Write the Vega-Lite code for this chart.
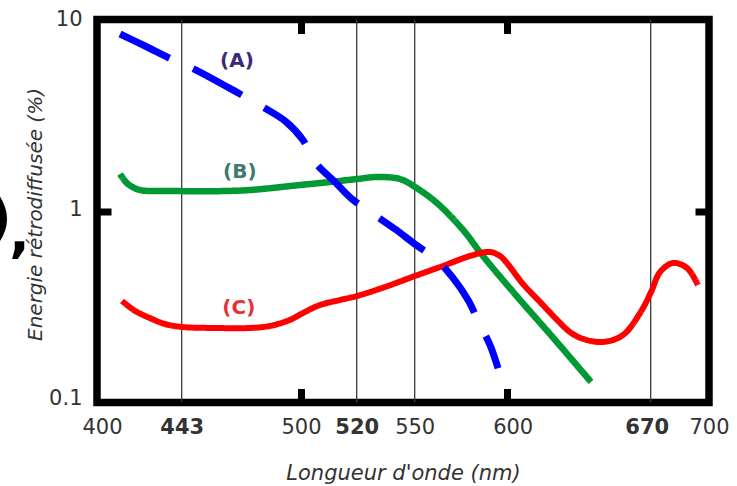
{
  "$schema": "https://vega.github.io/schema/vega-lite/v6.json",
  "width": 612,
  "height": 383,
  "autosize": {"type": "none"},
  "padding": {"left": 97, "top": 19.5, "right": 28, "bottom": 83.5},
  "background": "white",
  "config": {
    "view": {"stroke": "black", "strokeWidth": 7.5},
    "font": "DejaVu Sans",
    "axis": {"grid": false, "domain": false}
  },
  "datasets": {
    "curves": [
      {"series": "B", "nm": 411.7, "v": 1.56},
      {"series": "B", "nm": 415.7, "v": 1.384},
      {"series": "B", "nm": 421.8, "v": 1.287},
      {"series": "B", "nm": 432.0, "v": 1.272},
      {"series": "B", "nm": 443.1, "v": 1.27},
      {"series": "B", "nm": 461.3, "v": 1.27},
      {"series": "B", "nm": 475.6, "v": 1.287},
      {"series": "B", "nm": 499.5, "v": 1.367},
      {"series": "B", "nm": 510.4, "v": 1.417},
      {"series": "B", "nm": 520.2, "v": 1.469},
      {"series": "B", "nm": 530.5, "v": 1.505},
      {"series": "B", "nm": 542.4, "v": 1.469},
      {"series": "B", "nm": 550.2, "v": 1.335},
      {"series": "B", "nm": 562.1, "v": 1.101},
      {"series": "B", "nm": 576.3, "v": 0.796},
      {"series": "B", "nm": 587.1, "v": 0.582},
      {"series": "B", "nm": 606.5, "v": 0.343},
      {"series": "B", "nm": 621.0, "v": 0.228},
      {"series": "B", "nm": 641.0, "v": 0.128},
      {"series": "C", "nm": 412.7, "v": 0.339},
      {"series": "C", "nm": 419.3, "v": 0.301},
      {"series": "C", "nm": 426.9, "v": 0.276},
      {"series": "C", "nm": 434.5, "v": 0.257},
      {"series": "C", "nm": 443.1, "v": 0.248},
      {"series": "C", "nm": 458.9, "v": 0.245},
      {"series": "C", "nm": 475.6, "v": 0.245},
      {"series": "C", "nm": 485.2, "v": 0.251},
      {"series": "C", "nm": 494.7, "v": 0.27},
      {"series": "C", "nm": 501.4, "v": 0.297},
      {"series": "C", "nm": 506.8, "v": 0.323},
      {"series": "C", "nm": 514.0, "v": 0.343},
      {"series": "C", "nm": 520.2, "v": 0.36},
      {"series": "C", "nm": 534.6, "v": 0.401},
      {"series": "C", "nm": 550.2, "v": 0.458},
      {"series": "C", "nm": 563.8, "v": 0.51},
      {"series": "C", "nm": 581.7, "v": 0.589},
      {"series": "C", "nm": 590.9, "v": 0.611},
      {"series": "C", "nm": 596.4, "v": 0.582},
      {"series": "C", "nm": 600.1, "v": 0.535},
      {"series": "C", "nm": 607.9, "v": 0.416},
      {"series": "C", "nm": 616.2, "v": 0.335},
      {"series": "C", "nm": 624.5, "v": 0.27},
      {"series": "C", "nm": 630.8, "v": 0.233},
      {"series": "C", "nm": 637.1, "v": 0.215},
      {"series": "C", "nm": 646.8, "v": 0.207},
      {"series": "C", "nm": 656.5, "v": 0.225},
      {"series": "C", "nm": 664.8, "v": 0.293},
      {"series": "C", "nm": 670.2, "v": 0.378},
      {"series": "C", "nm": 674.8, "v": 0.48},
      {"series": "C", "nm": 681.5, "v": 0.535},
      {"series": "C", "nm": 688.7, "v": 0.504},
      {"series": "C", "nm": 694.3, "v": 0.411},
      {"series": "A", "nm": 411.7, "v": 8.40},
      {"series": "A", "nm": 424.4, "v": 7.27},
      {"series": "A", "nm": 437.6, "v": 6.22},
      {"series": "A", "nm": 448.9, "v": 5.51},
      {"series": "A", "nm": 470.9, "v": 4.08},
      {"series": "A", "nm": 481.8, "v": 3.49},
      {"series": "A", "nm": 492.4, "v": 2.95},
      {"series": "A", "nm": 500.7, "v": 2.35},
      {"series": "A", "nm": 505.0, "v": 1.80},
      {"series": "A", "nm": 512.2, "v": 1.417},
      {"series": "A", "nm": 518.3, "v": 1.155},
      {"series": "A", "nm": 527.9, "v": 0.976},
      {"series": "A", "nm": 539.8, "v": 0.805},
      {"series": "A", "nm": 550.7, "v": 0.665},
      {"series": "A", "nm": 562.1, "v": 0.555},
      {"series": "A", "nm": 570.8, "v": 0.447},
      {"series": "A", "nm": 579.0, "v": 0.343},
      {"series": "A", "nm": 585.5, "v": 0.254},
      {"series": "A", "nm": 590.9, "v": 0.2},
      {"series": "A", "nm": 595.3, "v": 0.151}
    ],
    "vlines": [{"nm": 443}, {"nm": 520}, {"nm": 550}, {"nm": 670}],
    "labels": [
      {"series": "A", "t": "(A)", "nm": 469.4, "v": 6.07},
      {"series": "B", "t": "(B)", "nm": 470.8, "v": 1.598},
      {"series": "C", "t": "(C)", "nm": 470.3, "v": 0.3115}
    ],
    "fragment": [
      {"t": ")", "nm": 344.2, "v": 0.74},
      {"t": ",", "nm": 355.4, "v": 0.618}
    ]
  },
  "layer": [
    {
      "data": {"name": "vlines"},
      "mark": {"type": "rule", "color": "#3a3a3a", "strokeWidth": 1.3},
      "encoding": {
        "x": {"field": "nm", "type": "quantitative", "axis": null}
      }
    },
    {
      "data": {"name": "curves"},
      "mark": {"type": "line", "interpolate": "catmull-rom", "strokeCap": "butt"},
      "encoding": {
        "x": {
          "field": "nm",
          "type": "quantitative",
          "scale": {
            "type": "linear",
            "domain": [400, 443, 500, 520, 550, 600, 670, 700],
            "range": [0, 84.7, 204, 259.7, 317.7, 409.7, 553.7, 612],
            "nice": false,
            "zero": false
          },
          "axis": {
            "orient": "bottom",
            "values": [400, 443, 500, 520, 550, 600, 670, 700],
            "title": "Longueur d'onde (nm)",
            "titleFont": "DejaVu Sans",
            "titleFontStyle": "italic",
            "titleFontWeight": "normal",
            "titleFontSize": 21,
            "titleColor": "#333333",
            "titleBaseline": "alphabetic",
            "titleAlign": "center",
            "titleX": 306,
            "titleY": 76.5,
            "labelFont": "DejaVu Sans",
            "labelFontSize": 21,
            "labelColor": "#333333",
            "labelBaseline": "top",
            "labelPadding": 28,
            "labelFlush": false,
            "labelOverlap": false,
            "labelFontWeight": {
              "condition": {"test": "datum.value == 443 || datum.value == 520 || datum.value == 670", "value": "bold"},
              "value": "normal"
            },
            "labelOffset": {
              "condition": [
                {"test": "datum.value == 400", "value": 5},
                {"test": "datum.value == 600", "value": 6},
                {"test": "datum.value == 670", "value": -4}
              ],
              "value": 0
            },
            "tickSize": -14,
            "tickWidth": 7,
            "tickColor": "black",
            "tickOpacity": {
              "condition": {"test": "datum.value == 500 || datum.value == 600", "value": 1},
              "value": 0
            }
          }
        },
        "y": {
          "field": "v",
          "type": "quantitative",
          "scale": {"type": "log", "domain": [0.1, 10], "nice": false},
          "axis": {
            "orient": "left",
            "values": [0.1, 1, 10],
            "format": ".1~f",
            "title": "Energie rétrodiffusée (%)",
            "titleFont": "DejaVu Sans",
            "titleFontStyle": "italic",
            "titleFontWeight": "normal",
            "titleFontSize": 20,
            "titleColor": "#333333",
            "titleAngle": -90,
            "titleAlign": "center",
            "titleBaseline": "alphabetic",
            "titleX": -56,
            "titleY": 194.5,
            "labelFont": "DejaVu Sans",
            "labelFontSize": 21,
            "labelColor": "#333333",
            "labelAlign": "right",
            "labelBaseline": "middle",
            "labelPadding": 29,
            "labelFlush": false,
            "labelOverlap": false,
            "labelOffset": {
              "condition": [
                {"test": "datum.value < 0.5", "value": -4},
                {"test": "datum.value < 5", "value": -2}
              ],
              "value": 0
            },
            "tickSize": -14,
            "tickWidth": 7,
            "tickColor": "black",
            "tickOpacity": {
              "condition": {"test": "datum.value > 0.5 && datum.value < 5", "value": 1},
              "value": 0
            }
          }
        },
        "color": {
          "field": "series",
          "type": "nominal",
          "scale": {"domain": ["A", "B", "C"], "range": ["#0000ff", "#009933", "#ff0000"]},
          "legend": null
        },
        "strokeDash": {
          "field": "series",
          "type": "nominal",
          "scale": {"domain": ["A", "B", "C"], "range": [[55, 26], [1, 0], [1, 0]]},
          "legend": null
        },
        "strokeWidth": {
          "field": "series",
          "type": "nominal",
          "scale": {"domain": ["A", "B", "C"], "range": [7, 6, 7.5]},
          "legend": null
        }
      }
    },
    {
      "data": {"name": "labels"},
      "mark": {"type": "text", "fontWeight": "bold", "fontSize": 20, "font": "DejaVu Sans", "align": "center", "baseline": "middle"},
      "encoding": {
        "x": {"field": "nm", "type": "quantitative", "axis": null},
        "y": {"field": "v", "type": "quantitative", "axis": null},
        "text": {"field": "t"},
        "color": {
          "field": "series",
          "type": "nominal",
          "scale": {"domain": ["A", "B", "C"], "range": ["#3c2a78", "#3e7a70", "#e8303a"]},
          "legend": null
        }
      }
    },
    {
      "data": {"name": "fragment"},
      "mark": {"type": "text", "fontWeight": "bold", "fontSize": 54, "font": "DejaVu Sans", "align": "left", "baseline": "alphabetic", "color": "black"},
      "encoding": {
        "x": {"field": "nm", "type": "quantitative", "axis": null},
        "y": {"field": "v", "type": "quantitative", "axis": null},
        "text": {"field": "t"}
      }
    },
    {
      "data": {"name": "vlines"},
      "mark": {"type": "point", "opacity": 0},
      "encoding": {
        "x": {
          "field": "nm",
          "type": "quantitative",
          "axis": {"orient": "top", "values": [500, 600], "labels": false, "title": null, "tickSize": -14, "tickWidth": 7, "tickColor": "black"}
        },
        "y": {
          "datum": 1,
          "type": "quantitative",
          "axis": {"orient": "right", "values": [1], "labels": false, "title": null, "tickSize": -14, "tickWidth": 7, "tickColor": "black"}
        }
      }
    }
  ],
  "resolve": {
    "scale": {"color": "independent"},
    "axis": {"x": "independent", "y": "independent"}
  }
}
